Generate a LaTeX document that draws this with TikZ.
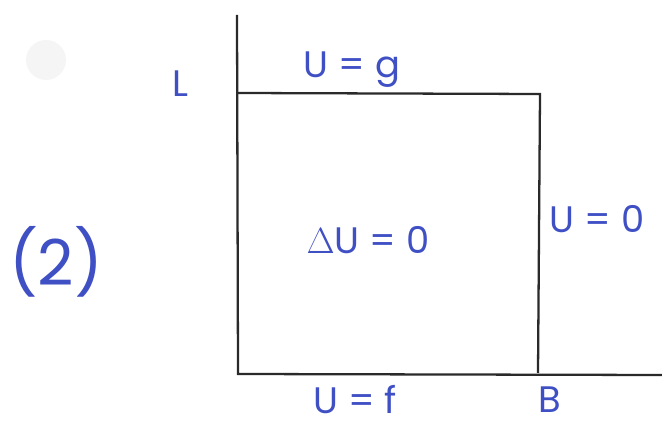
\documentclass[tikz,border=0pt]{standalone}
\usepackage{fontspec}
\setmainfont{Poppins}
\definecolor{ink}{HTML}{3F4FC4}
\definecolor{pen}{HTML}{2A2A2A}
\begin{document}
\begin{tikzpicture}[x=0.02cm,y=-0.02cm,
  lbl/.style={text=ink,font=\fontsize{21}{24}\selectfont,inner sep=0pt},
  edge/.style={draw=pen,line width=1.3pt}]
\useasboundingbox (0,0) rectangle (662,428);
\fill[gray!8] (46,60) circle (20);
\coordinate (O) at (238,374);
\coordinate (Ytop) at (237,15);
\coordinate (Xend) at (662,375);
\coordinate (TL) at (237,93);
\coordinate (TR) at (540,94);
\coordinate (BR) at (538,373);
\draw[edge] (Ytop) -- (O) -- (Xend);
\draw[edge] (TL) -- (TR) -- (BR);
\node[lbl] (L) at (180,84) {L};
\node[lbl] (top) at (352,70) {U = g};
\node[lbl] (mid) at (368,240) {$\Delta$U = 0};
\node[lbl] (right) at (597,219) {U = 0};
\node[lbl] (bot) at (355,400) {U = f};
\node[lbl] (B) at (550,400) {B};
\node[lbl,font=\fontsize{36}{40}\selectfont] (two) at (56,262) {(2)};
\end{tikzpicture}
\end{document}
